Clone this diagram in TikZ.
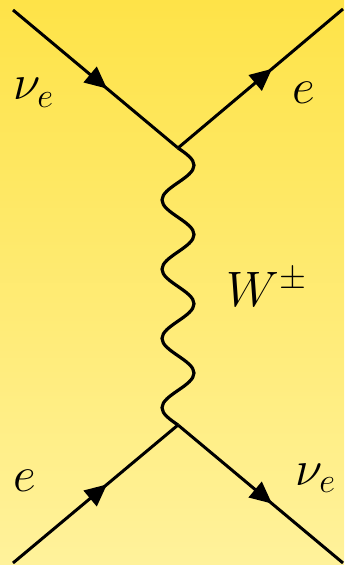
\documentclass[tikz,border=0pt]{standalone}
\usepackage{amsmath}
\usetikzlibrary{arrows.meta,decorations.markings}
\definecolor{bgtop}{RGB}{254,227,72}
\definecolor{bgbot}{RGB}{255,242,155}
\tikzset{
  fermion/.style={line width=1.5pt,postaction={decorate},
    decoration={markings,mark=at position 0.57 with {\arrow{Triangle[length=11pt,width=10pt]}}}},
  boson/.style={line width=1.6pt},
  lbl/.style={inner sep=0pt,font=\fontsize{25}{30}\selectfont},
}
\begin{document}
\begin{tikzpicture}[x=0.5pt,y=-0.5pt]
    % background
    \shade[top color=bgtop,bottom color=bgbot] (0,0) rectangle (344,565);
    \useasboundingbox (0,0) rectangle (344,565);
    % vertices and external legs
    \coordinate (vtop) at (178,148);
    \coordinate (vbot) at (178,425);
    \coordinate (inTL) at (13,10);
    \coordinate (outTR) at (343,9);
    \coordinate (inBL) at (13,563);
    \coordinate (outBR) at (343,563);
    % fermion lines
    \draw[fermion] (inTL) -- (vtop);
    \draw[fermion] (vtop) -- (outTR);
    \draw[fermion] (inBL) -- (vbot);
    \draw[fermion] (vbot) -- (outBR);
    % W propagator: four sine periods, quarter by quarter
    \draw[boson] (vtop) \foreach \i in {1,...,4} {
        .. controls +(8.2,5.65) and +(0,-6.26) .. ++(16,17.3125)
        .. controls +(0,6.26) and +(8.2,-5.65) .. ++(-16,17.3125)
        .. controls +(-8.2,5.65) and +(0,-6.26) .. ++(-16,17.3125)
        .. controls +(0,6.26) and +(-8.2,-5.65) .. ++(16,17.3125)
      } -- (vbot);
    % labels
    \node[lbl,anchor=base west] (nuTL) at (13,100) {$\nu_e$};
    \node[lbl,anchor=base west] (eTR) at (292,104) {$e$};
    \node[lbl,anchor=base west] (W) at (226,307) {$W^\pm$};
    \node[lbl,anchor=base west] (eBL) at (13,491) {$e$};
    \node[lbl,anchor=base west] (nuBR) at (295,485) {$\nu_e$};
\end{tikzpicture}
\end{document}
